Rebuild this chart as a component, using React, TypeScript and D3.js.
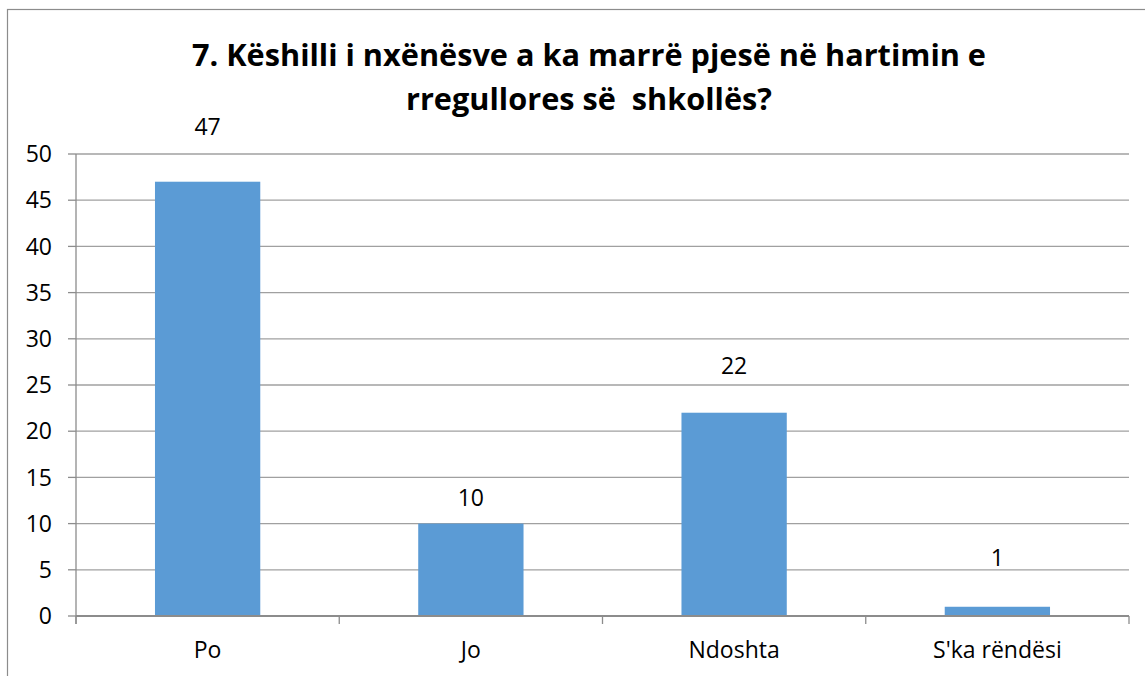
import React from "react";
import * as d3 from "d3";

const categories: string[] = ["Po", "Jo", "Ndoshta", "S'ka rëndësi"];
const values: number[] = [47, 10, 22, 1];
const labelOffsets: number[] = [47, 18, 39, 41];
const yTicks: number[] = [0, 5, 10, 15, 20, 25, 30, 35, 40, 45, 50];
const titleLines: string[] = [
  "7. Këshilli i nxënësve a ka marrë pjesë në hartimin e",
  "rregullores së  shkollës?",
];
const titleWidths: number[] = [794, 366];

const W = 1145;
const H = 676;
const M = { left: 76, right: 1129, top: 154, bottom: 616 };
const FONT = "'Open Sans', 'DejaVu Sans', sans-serif";

export default function App() {
  const x = d3
    .scaleBand<string>()
    .domain(categories)
    .range([M.left, M.right])
    .paddingInner(0.6)
    .paddingOuter(0.3);
  const band = d3.scaleBand<string>().domain(categories).range([M.left, M.right]);
  const y = d3.scaleLinear().domain([0, 50]).range([M.bottom, M.top]);
  const catEdges = [...categories.map((c) => band(c) as number), M.right];

  return (
    <svg
      width={W}
      height={H}
      style={{ position: "absolute", left: 0, top: 0, background: "#fff" }}
      fontFamily={FONT}
    >
      <rect x={7.5} y={9.5} width={1200} height={700} fill="#fff" stroke="#8c8c8c" strokeWidth={1.2} />
      {titleLines.map((t, i) => (
        <text
          key={i}
          x={589}
          y={66 + i * 44}
          textAnchor="middle"
          fontSize={31}
          fontWeight={700}
          fill="#000"
          textLength={titleWidths[i]}
          lengthAdjust="spacingAndGlyphs"
          style={{ whiteSpace: "pre" }}
        >
          {t}
        </text>
      ))}
      {yTicks.map((t) => (
        <g key={t}>
          {t > 0 && (
            <line x1={M.left} x2={M.right} y1={y(t)} y2={y(t)} stroke="#a0a0a0" strokeWidth={1.3} />
          )}
          <line x1={68} x2={M.left} y1={y(t)} y2={y(t)} stroke="#8c8c8c" strokeWidth={1.3} />
          <text x={52} y={y(t)} dy="0.36em" textAnchor="end" fontSize={23} fill="#000">
            {t}
          </text>
        </g>
      ))}
      {categories.map((c, i) => (
        <g key={c}>
          <rect
            x={x(c)}
            y={y(values[i])}
            width={x.bandwidth()}
            height={y(0) - y(values[i])}
            fill="#5b9bd5"
          />
          <text
            x={(x(c) as number) + x.bandwidth() / 2}
            y={y(values[i]) - labelOffsets[i]}
            textAnchor="middle"
            fontSize={23}
            fill="#000"
          >
            {values[i]}
          </text>
          <text
            x={(band(c) as number) + band.bandwidth() / 2}
            y={658}
            textAnchor="middle"
            fontSize={23}
            fill="#000"
          >
            {c}
          </text>
        </g>
      ))}
      <line x1={M.left} x2={M.left} y1={M.top} y2={624} stroke="#8c8c8c" strokeWidth={1.3} />
      <line x1={M.left} x2={M.right} y1={M.bottom} y2={M.bottom} stroke="#8c8c8c" strokeWidth={2} />
      {catEdges.map((e, i) => (
        <line key={i} x1={e} x2={e} y1={M.bottom} y2={624} stroke="#8c8c8c" strokeWidth={1.3} />
      ))}
    </svg>
  );
}
